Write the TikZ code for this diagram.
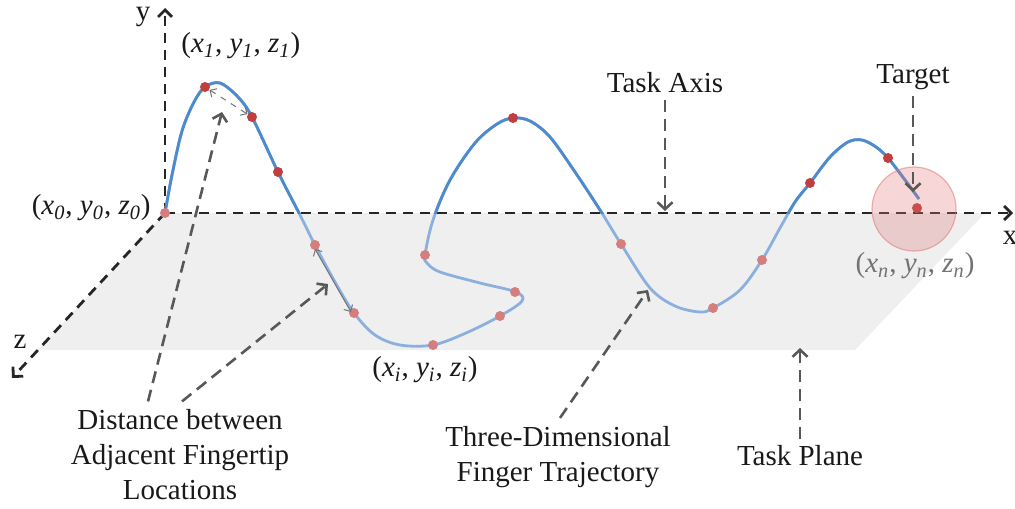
\documentclass[tikz,border=0pt]{standalone}
\usepackage{fontspec}
\setmainfont{Liberation Serif}
\usetikzlibrary{arrows.meta,calc,positioning}
\definecolor{planegray}{RGB}{239,239,239}
\definecolor{trajdark}{RGB}{78,138,206}
\definecolor{trajlight}{RGB}{140,176,222}
\definecolor{dotdark}{RGB}{192,62,62}
\definecolor{dotlight}{RGB}{212,126,126}
\definecolor{anngray}{RGB}{88,88,88}
\definecolor{tgtred}{RGB}{225,120,120}
\newcommand{\crd}[1]{(\textit{x}\textsubscript{\textit{#1}}, \textit{y}\textsubscript{\textit{#1}}, \textit{z}\textsubscript{\textit{#1}})}
\newcommand{\trajpath}{plot[smooth,tension=.55] coordinates {
  (165,213) (172,175) (182,131) (194,102) (205,87) (220,83) (238,97) (252,117)
  (278,172) (300,215) (315,245) (335,282) (354,313) (375,335) (400,345) (433,345)
  (466,333) (500,316) (522,301) (516,292) (480,283) (440,272) (427,263) (425,255)
  (433,220) (450,180) (475,143) (497,124) (513,118) (530,121) (550,137) (575,172)
  (600,210) (621,244) (650,288) (675,306) (700,312) (713,308) (740,290) (762,260)
  (780,228) (795,202) (810,183) (830,157) (848,142) (862,140) (876,147) (888,158)
  (905,180) (919,199)}}
\tikzset{
  ax/.style={draw=black!85,line width=1.4pt,dash pattern=on 5pt off 3.5pt,
    -{Straight Barb[length=3.5pt,width=7pt,line width=1.4pt]}},
  ann/.style={draw=anngray,line width=1.3pt,dash pattern=on 6pt off 3.5pt,
    -{Straight Barb[length=3.5pt,width=7.5pt,line width=1.3pt]}},
  gap/.style={draw=black!55,line width=.5pt,
    {Straight Barb[length=2.5pt,width=5pt]}-{Straight Barb[length=2.5pt,width=5pt]}},
  ptA/.style={circle,fill=dotdark,minimum size=5pt,inner sep=0pt},
  ptB/.style={circle,fill=dotlight,minimum size=5pt,inner sep=0pt},
  lb/.style={font=\fontsize{14.5}{17.5}\selectfont,align=center,inner sep=1pt,text=black!90},
}

\begin{document}
\begin{tikzpicture}[x=0.5pt,y=-0.5pt]
\useasboundingbox (0,0) rectangle (1015,508);
% task plane
\fill[planegray] (165,213) -- (985,213) -- (855,350) -- (38,350) -- cycle;
% axes
\coordinate (O) at (165,213);
\coordinate (xend) at (1013,213);
\coordinate (yend) at (165,8);
\coordinate (zend) at (12,378);
\draw[ax] (O) -- (xend);
\draw[ax] (O) -- (yend);
\draw[ax] (O) -- (zend);
\node[lb] (xlab) at (1010,238) {x};
\node[lb] (ylab) at (143,17) {y};
\node[lb] (zlab) at (20,342) {z};
% trajectory: light inside the plane, dark above it
\draw[trajlight,line width=1.4pt] \trajpath;
\begin{scope}
  \clip (0,0) rectangle (1015,213);
  \draw[trajdark,line width=1.4pt] \trajpath;
\end{scope}
% fingertip samples
\node[ptB] (p0) at (165,213) {};
\node[ptA] (p1) at (205,87) {};
\node[ptA] (p2) at (252,117) {};
\node[ptA] (p3) at (278,172) {};
\node[ptB] (p4) at (315,245) {};
\node[ptB] (p5) at (354,313) {};
\node[ptB] (p6) at (433,345) {};
\node[ptB] (p7) at (500,316) {};
\node[ptB] (p8) at (515,292) {};
\node[ptB] (p9) at (425,255) {};
\node[ptA] (p10) at (513,118) {};
\node[ptB] (p11) at (621,244) {};
\node[ptB] (p12) at (713,308) {};
\node[ptB] (p13) at (762,260) {};
\node[ptA] (p14) at (810,183) {};
\node[ptA] (p15) at (888,158) {};
\node[ptA] (pn) at (917,208) {};
% target zone
\node[circle,minimum size=42pt,inner sep=0pt,fill=tgtred,fill opacity=.3,
  draw=tgtred,draw opacity=.55,line width=.6pt] (tgt) at (914,209) {};
% distances between neighbours
\draw[gap,dashed] (p1) -- (p2);
\draw[gap] ($(p4)+(0,4)$) -- ($(p5)+(-3,-1)$);
% labels
\node[lb,anchor=east] (l0) at (153,208) {\crd{0}};
\node[lb,anchor=west] (l1) at (179,46) {\crd{1}};
\node[lb] (li) at (425,370) {\crd{i}};
\node[lb,text=black!55] (ln) at (915,266) {\crd{n}};
\node[lb] (lblAxis) at (665,83) {Task Axis};
\node[lb] (lblTarget) at (913,77) {Target};
\node[lb] (lblPlane) at (800,456) {Task Plane};
\node[lb] (lblTraj) at (558,457) {Three-Dimensional\\Finger Trajectory};
\node[lb] (lblDist) at (180,455) {Distance between\\Adjacent Fingertip\\Locations};
% pointers
\coordinate (axHit) at (665,211);
\coordinate (tgtHit) at (913,192);
\coordinate (plHit) at (800,348);
\coordinate (trHit) at (648,290);
\coordinate (dHitA) at (222,112);
\coordinate (dHitB) at (328,284);
\draw[ann] ($(lblAxis.south)+(0,4)$) -- (axHit);
\draw[ann] ($(lblTarget.south)+(0,4)$) -- (tgtHit);
\draw[ann] ($(lblPlane.north)+(0,-4)$) -- (plHit);
\draw[ann] ($(lblTraj.north)+(2,-6)$) -- (trHit);
\draw[ann] ($(lblDist.north)+(-32,-6)$) -- (dHitA);
\draw[ann] ($(lblDist.north)+(2,-6)$) -- (dHitB);
\end{tikzpicture}
\end{document}
